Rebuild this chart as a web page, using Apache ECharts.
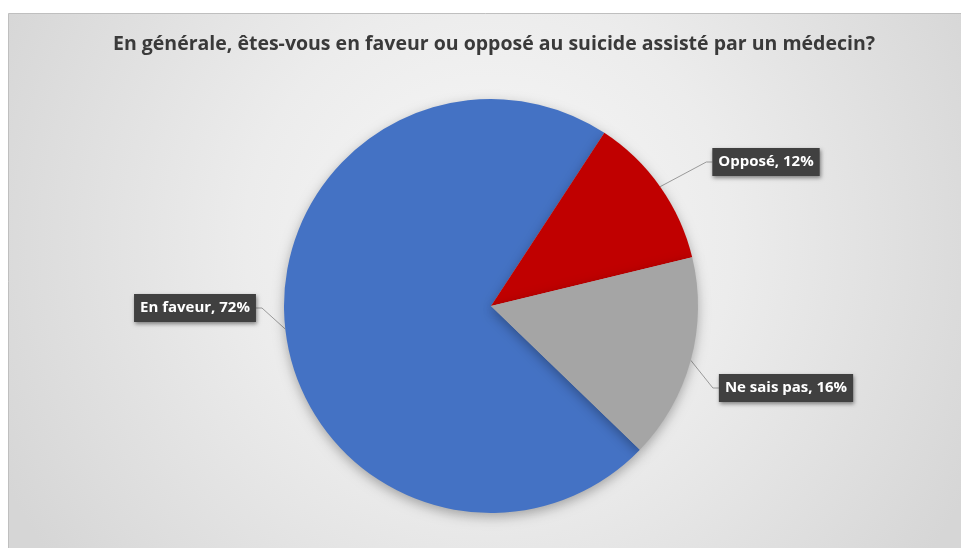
<!DOCTYPE html>
<html>
<head>
<meta charset="utf-8">
<script src="https://cdn.jsdelivr.net/npm/echarts@6/dist/echarts.min.js"></script>
<style>
html,body{margin:0;padding:0;background:#fff;}
#chart{width:961px;height:548px;}
</style>
</head>
<body>
<div id="chart"></div>
<script>
const titleText = 'En générale, êtes-vous en faveur ou opposé au suicide assisté par un médecin?';
const categories = ['En faveur', 'Opposé', 'Ne sais pas'];
const values = [72, 12, 16];
const colors = ['#4472C4', '#C00000', '#A5A5A5'];

const labelSpots = [
  { x: 195, y: 308 },
  { x: 766, y: 162 },
  { x: 786, y: 388 }
];

const chart = echarts.init(document.getElementById('chart'), null, { renderer: 'canvas' });
chart.setOption({
  animation: false,
  backgroundColor: '#ffffff',
  graphic: [{
    type: 'rect',
    z: -10,
    silent: true,
    shape: { x: 8.5, y: 13.5, width: 960, height: 540 },
    style: {
      fill: new echarts.graphic.RadialGradient(0.5, 0.42, 1.0, [
        { offset: 0, color: '#f8f8f8' },
        { offset: 0.45, color: '#ececec' },
        { offset: 1, color: '#d6d6d6' }
      ]),
      stroke: '#bfbfbf',
      lineWidth: 1
    }
  }],
  title: {
    text: titleText,
    left: 108,
    top: 29,
    textStyle: {
      fontFamily: 'Open Sans',
      fontWeight: 'bold',
      fontSize: 19.5,
      color: '#3a3a3a'
    }
  },
  series: [{
    type: 'pie',
    center: [491, 306],
    radius: 207,
    startAngle: -44,
    clockwise: true,
    data: categories.map((c, i) => ({ name: c, value: values[i], itemStyle: { color: colors[i] } })),
    itemStyle: {
      borderWidth: 0,
      shadowBlur: 12,
      shadowColor: 'rgba(0,0,0,0.3)',
      shadowOffsetY: 4
    },
    emphasis: { disabled: true },
    label: {
      show: true,
      position: 'outside',
      formatter: '{b}, {c}%',
      fontFamily: 'Open Sans',
      fontWeight: 'bold',
      fontSize: 15,
      color: '#ffffff',
      backgroundColor: '#404040',
      padding: [7, 6, 6, 6],
      shadowBlur: 4,
      shadowColor: 'rgba(0,0,0,0.45)',
      shadowOffsetX: 1,
      shadowOffsetY: 2
    },
    labelLine: {
      show: true,
      length: 30,
      length2: 6,
      lineStyle: { color: '#9a9a9a', width: 1 }
    },
    labelLayout: function (params) {
      const p = labelSpots[params.dataIndex];
      return { x: p.x, y: p.y, align: 'center', verticalAlign: 'middle' };
    }
  }]
});
</script>
</body>
</html>
